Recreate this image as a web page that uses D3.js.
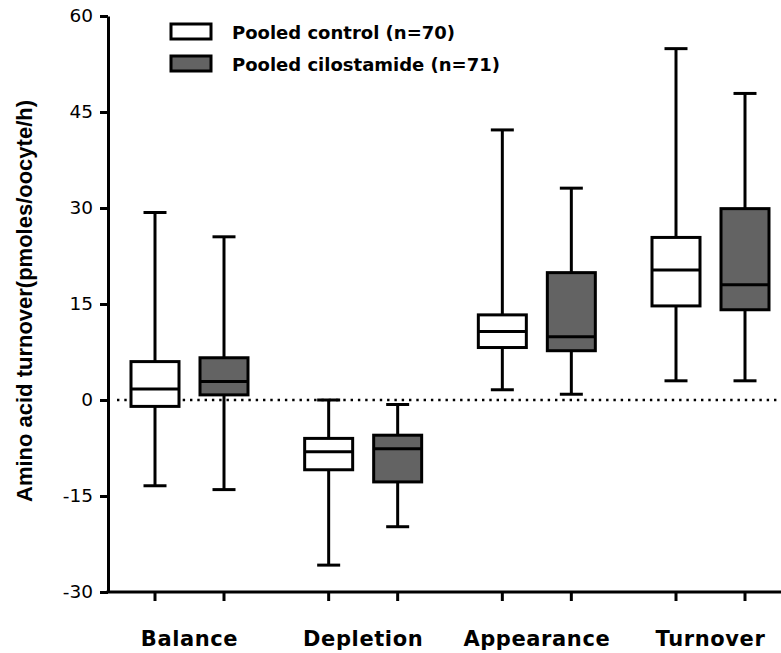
<!DOCTYPE html>
<html>
<head>
<meta charset="utf-8">
<script src="https://cdn.jsdelivr.net/npm/d3@7"></script>
<style>
  html, body { margin: 0; padding: 0; background: #fff; }
  svg { display: block; }
</style>
</head>
<body>
<svg id="chart" width="781" height="653"></svg>
<script>
// Amino acid turnover per oocyte: box-and-whisker summaries (min, Q1, median, Q3, max)
const categories = ["Balance", "Depletion", "Appearance", "Turnover"];
const seriesNames = ["Pooled control (n=70)", "Pooled cilostamide (n=71)"];

// [min, q1, median, q3, max] for each category
const controlStats = [
  [-13.4, -1.0, 1.7, 6.0, 29.3],
  [-25.8, -10.9, -8.1, -6.0, 0.0],
  [1.6, 8.2, 10.7, 13.3, 42.2],
  [3.0, 14.7, 20.3, 25.4, 54.9]
];
const cilostamideStats = [
  [-14.0, 0.8, 2.9, 6.6, 25.5],
  [-19.8, -12.8, -7.6, -5.5, -0.7],
  [0.9, 7.7, 9.9, 19.9, 33.1],
  [3.0, 14.1, 18.0, 29.9, 47.9]
];
const yTicks = [-30, -15, 0, 15, 30, 45, 60];
const yTitle = "Amino acid turnover(pmoles/oocyte/h)";

const seriesStats = [controlStats, cilostamideStats];
const seriesFill = ["#ffffff", "#636363"];

const svg = d3.select("#chart");
const axisX = 108, plotTop = 16, plotBottom = 592, plotRight = 781;

const y = d3.scaleLinear().domain([-30, 60]).range([plotBottom, plotTop]);
const xGroup = d3.scalePoint().domain(categories).range([189.5, 710.5]);
const xSub = d3.scaleBand().domain(seriesNames).range([-69, 69]);
const boxW = 48, capW = 23, lw = 3;

const centerX = (cat, s) => xGroup(cat) + xSub(s) + xSub.bandwidth() / 2;

// zero reference line
svg.append("line")
  .attr("x1", axisX + 9).attr("x2", plotRight)
  .attr("y1", y(0)).attr("y2", y(0))
  .attr("stroke", "#000").attr("stroke-width", 2.4)
  .attr("stroke-dasharray", "2.4 4.9");

// boxes
seriesNames.forEach((s, si) => {
  const g = svg.append("g");
  categories.forEach((cat, ci) => {
    const [mn, q1, med, q3, mx] = seriesStats[si][ci];
    const cx = centerX(cat, s);
    // whiskers
    g.append("line").attr("x1", cx).attr("x2", cx).attr("y1", y(mx)).attr("y2", y(q3))
      .attr("stroke", "#000").attr("stroke-width", lw);
    g.append("line").attr("x1", cx).attr("x2", cx).attr("y1", y(q1)).attr("y2", y(mn))
      .attr("stroke", "#000").attr("stroke-width", lw);
    // caps
    [mn, mx].forEach(v => {
      g.append("line").attr("x1", cx - capW / 2).attr("x2", cx + capW / 2)
        .attr("y1", y(v)).attr("y2", y(v))
        .attr("stroke", "#000").attr("stroke-width", lw);
    });
    // box
    g.append("rect")
      .attr("x", cx - boxW / 2).attr("width", boxW)
      .attr("y", y(q3)).attr("height", y(q1) - y(q3))
      .attr("fill", seriesFill[si]).attr("stroke", "#000").attr("stroke-width", lw);
    // median
    g.append("line").attr("x1", cx - boxW / 2).attr("x2", cx + boxW / 2)
      .attr("y1", y(med)).attr("y2", y(med))
      .attr("stroke", "#000").attr("stroke-width", lw);
  });
});

// y axis
const yAxis = svg.append("g")
  .attr("transform", `translate(${axisX},0)`)
  .call(d3.axisLeft(y).tickValues(yTicks).tickFormat(d => String(d))
    .tickSize(8).tickSizeOuter(0).tickPadding(7));
yAxis.select(".domain").attr("stroke-width", lw);
yAxis.selectAll(".tick line").attr("stroke-width", lw);
yAxis.selectAll(".tick text")
  .attr("font-family", "DejaVu Sans, sans-serif")
  .attr("font-size", 18.5)
  .attr("fill", "#000");

// x axis baseline and ticks under each box
svg.append("line")
  .attr("x1", axisX - 1.5).attr("x2", plotRight)
  .attr("y1", plotBottom).attr("y2", plotBottom)
  .attr("stroke", "#000").attr("stroke-width", lw);
categories.forEach(cat => {
  seriesNames.forEach(s => {
    const cx = centerX(cat, s);
    svg.append("line").attr("x1", cx).attr("x2", cx)
      .attr("y1", plotBottom).attr("y2", plotBottom + 9)
      .attr("stroke", "#000").attr("stroke-width", lw);
  });
  svg.append("text")
    .attr("x", xGroup(cat)).attr("y", 646)
    .attr("text-anchor", "middle")
    .attr("font-family", "DejaVu Sans, sans-serif")
    .attr("font-weight", "bold").attr("font-size", 21)
    .attr("letter-spacing", 0.6)
    .text(cat);
});

// y axis title
svg.append("text")
  .attr("transform", "translate(32,301) rotate(-90)")
  .attr("text-anchor", "middle")
  .attr("font-family", "Liberation Sans Narrow, Liberation Sans, sans-serif")
  .attr("font-weight", "bold").attr("font-size", 22)
  .attr("textLength", 402).attr("lengthAdjust", "spacingAndGlyphs")
  .text(yTitle);

// legend
const legend = svg.append("g");
seriesNames.forEach((s, i) => {
  const top = 24 + i * 32;
  legend.append("rect")
    .attr("x", 171).attr("y", top).attr("width", 40).attr("height", 15)
    .attr("fill", seriesFill[i]).attr("stroke", "#000").attr("stroke-width", lw);
  legend.append("text")
    .attr("x", 232).attr("y", top + 15)
    .attr("font-family", "DejaVu Sans, sans-serif")
    .attr("font-weight", "bold").attr("font-size", 18)
    .text(s);
});
</script>
</body>
</html>
